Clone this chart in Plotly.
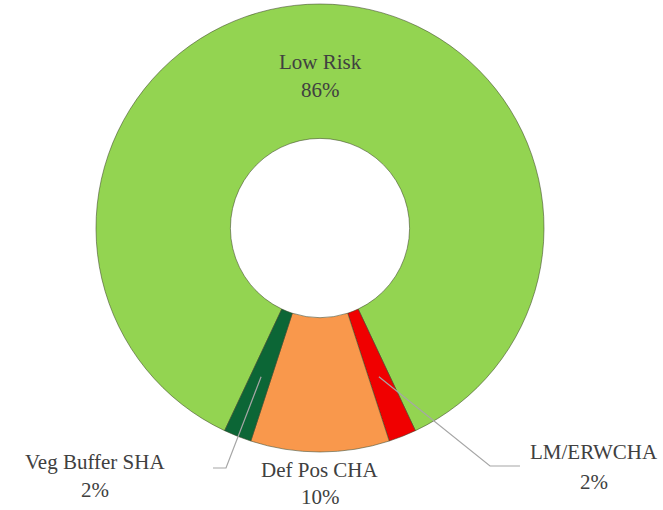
import math
import plotly.graph_objects as go

# Risk categories and their shares (%)
categories = ["Low Risk", "LM/ERWCHA", "Def Pos CHA", "Veg Buffer SHA"]
shares = [86, 2, 10, 2]
colors = ["#93D451", "#F00000", "#F9984C", "#0C6636"]

W, H = 663, 510
CX, CY, R = 320, 228, 224          # donut centre / outer radius (px)
HOLE = 0.40
START = 205.2                      # angle (deg, clockwise from 12 o'clock) where the first slice begins

TEXT_COLOR = "#404040"
FONT = "'Liberation Serif', 'DejaVu Serif', serif"
FS = 21


def px(x, y):
    """Pixel position -> paper coordinates."""
    return x / W, 1 - y / H


total = sum(shares)
mid_angle = {}
acc = START
for name, v in zip(categories, shares):
    span = 360 * v / total
    mid_angle[name] = acc + span / 2
    acc += span


def on_ring(name, r):
    a = math.radians(mid_angle[name])
    return CX + r * math.sin(a), CY - r * math.cos(a)


x0, y1 = px(CX - R, CY - R)
x1, y0 = px(CX + R, CY + R)

fig = go.Figure(
    go.Pie(
        labels=categories,
        values=shares,
        hole=HOLE,
        sort=False,
        direction="clockwise",
        rotation=START,
        marker=dict(colors=colors, line=dict(color="rgba(60,70,40,0.55)", width=1)),
        textinfo="none",
        hoverinfo="label+percent",
        showlegend=False,
        domain=dict(x=[x0, x1], y=[y0, y1]),
    )
)

# label positions (px): centre x, name line y, percent line y
label_pos = {
    "Low Risk": (320, 62, 90),
    "Def Pos CHA": (320, 470, 497),
    "Veg Buffer SHA": (95, 462, 490),
    "LM/ERWCHA": (594, 452, 482),
}

annotations = []
for name, v in zip(categories, shares):
    lx, ly1, ly2 = label_pos[name]
    pct = f"{round(100 * v / total)}%"
    for txt, ly in ((name, ly1), (pct, ly2)):
        ax, ay = px(lx, ly)
        annotations.append(dict(
            x=ax, y=ay, xref="paper", yref="paper", text=txt, showarrow=False,
            xanchor="center", yanchor="middle",
            font=dict(family=FONT, size=FS, color=TEXT_COLOR),
        ))

# leader lines for the two narrow slices
leaders = {
    "Veg Buffer SHA": [(226, 468), (213, 468)],
    "LM/ERWCHA": [(490, 466), (520, 466)],
}
shapes = []
for name, pts in leaders.items():
    sx, sy = on_ring(name, 160)
    path_pts = [(sx, sy)] + pts
    d = "M " + " L ".join(f"{px(x, y)[0]:.5f},{px(x, y)[1]:.5f}" for x, y in path_pts)
    shapes.append(dict(type="path", path=d, xref="paper", yref="paper",
                       line=dict(color="#A6A6A6", width=1.2)))

fig.update_layout(
    width=W, height=H,
    margin=dict(l=0, r=0, t=0, b=0),
    paper_bgcolor="white",
    plot_bgcolor="white",
    font=dict(family=FONT),
    annotations=annotations,
    shapes=shapes,
)

fig.write_html("out.html")
